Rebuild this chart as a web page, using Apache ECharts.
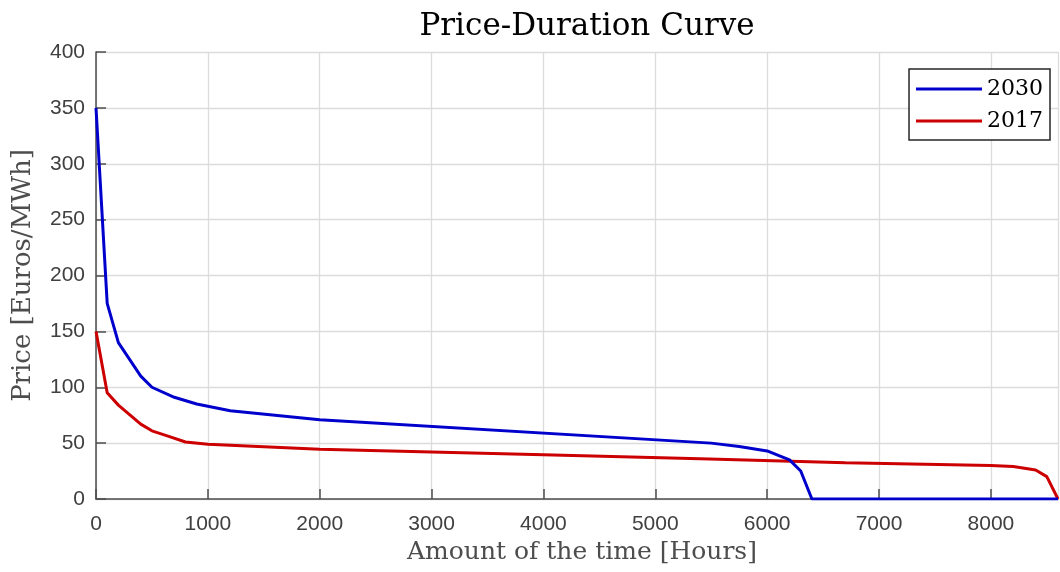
<!DOCTYPE html>
<html>
<head>
<meta charset="utf-8">
<script src="https://cdn.jsdelivr.net/npm/echarts@6/dist/echarts.min.js"></script>
<style>
  html, body { margin: 0; padding: 0; background: #fff; }
  #chart { width: 1060px; height: 572px; }
</style>
</head>
<body>
<div id="chart"></div>
<script>
// Hours of the year, sorted by price (duration curve breakpoints)
const hours2030 = [0, 100, 200, 400, 500, 700, 900, 1200, 2000, 5500, 5750, 6000, 6200, 6300, 6400, 8600];
const price2030 = [350, 175, 140, 110, 100, 91, 85, 79, 71, 50, 47, 43, 35, 25, 0, 0];

const hours2017 = [0, 100, 200, 400, 500, 650, 800, 1000, 2000, 4000, 5400, 6700, 8000, 8200, 8400, 8500, 8600];
const price2017 = [150, 95, 84, 67, 61, 56, 51, 49, 44.5, 39.5, 36, 32.5, 30, 29, 26, 20, 0];

const seriesNames = ['2030', '2017'];
const seriesColors = ['#0000cd', '#cc0000'];

const serifFont = '"DejaVu Serif", "Liberation Serif", serif';
const sansFont = 'Liberation Sans, Arial, Helvetica, sans-serif';

function pairs(xs, ys) {
  return xs.map((x, i) => [x, ys[i]]);
}

const chart = echarts.init(document.getElementById('chart'), null, { renderer: 'canvas' });

const gridLeft = 96, gridRight = 2;

chart.setOption({
  animation: false,
  backgroundColor: '#ffffff',
  title: {
    text: 'Price-Duration Curve',
    left: (gridLeft + 1060 - gridRight) / 2 + 5,
    textAlign: 'center',
    top: 6,
    textStyle: { fontFamily: serifFont, fontWeight: 'normal', fontSize: 31, color: '#000' }
  },
  legend: {
    right: 10,
    top: 69,
    orient: 'vertical',
    itemWidth: 66,
    itemHeight: 3,
    itemGap: 10,
    padding: [9, 7, 8, 7],
    borderColor: '#262626',
    borderWidth: 1.5,
    backgroundColor: '#fff',
    data: seriesNames.map(n => ({ name: n, icon: 'rect' })),
    textStyle: { fontFamily: serifFont, fontSize: 22, color: '#000' }
  },
  grid: { left: gridLeft, right: gridRight, top: 52, bottom: 73, containLabel: false },
  xAxis: {
    type: 'value',
    min: 0,
    max: 8600,
    interval: 1000,
    name: 'Amount of the time [Hours]',
    nameLocation: 'middle',
    nameGap: 41,
    nameTextStyle: { fontFamily: serifFont, fontSize: 25, color: '#4d4d4d', padding: [0, 0, 0, 10] },
    axisLine: { show: true, onZero: false, lineStyle: { color: '#4d4d4d', width: 1.5 } },
    axisTick: { show: true, inside: true, length: 10, lineStyle: { color: '#4d4d4d', width: 1.5 } },
    axisLabel: {
      showMaxLabel: false, margin: 15, fontFamily: sansFont, fontSize: 21, color: '#404040',
      formatter: v => String(v)
    },
    splitLine: { show: true, lineStyle: { color: '#dcdcdc', width: 1.3 } }
  },
  yAxis: {
    type: 'value',
    min: 0,
    max: 400,
    interval: 50,
    name: 'Price [Euros/MWh]',
    nameLocation: 'middle',
    nameGap: 60,
    nameTextStyle: { fontFamily: serifFont, fontSize: 26, color: '#4d4d4d' },
    axisLine: { show: true, lineStyle: { color: '#4d4d4d', width: 1.5 } },
    axisTick: { show: true, inside: true, length: 10, lineStyle: { color: '#4d4d4d', width: 1.5 } },
    axisLabel: { margin: 11, fontFamily: sansFont, fontSize: 21, color: '#404040' },
    splitLine: { show: true, lineStyle: { color: '#dcdcdc', width: 1.3 } }
  },
  series: [
    {
      name: seriesNames[0],
      type: 'line',
      data: pairs(hours2030, price2030),
      showSymbol: false,
      symbol: 'none',
      lineStyle: { color: seriesColors[0], width: 3 },
      itemStyle: { color: seriesColors[0] },
      z: 3
    },
    {
      name: seriesNames[1],
      type: 'line',
      data: pairs(hours2017, price2017),
      showSymbol: false,
      symbol: 'none',
      lineStyle: { color: seriesColors[1], width: 3 },
      itemStyle: { color: seriesColors[1] },
      z: 2
    }
  ]
});
</script>
</body>
</html>
